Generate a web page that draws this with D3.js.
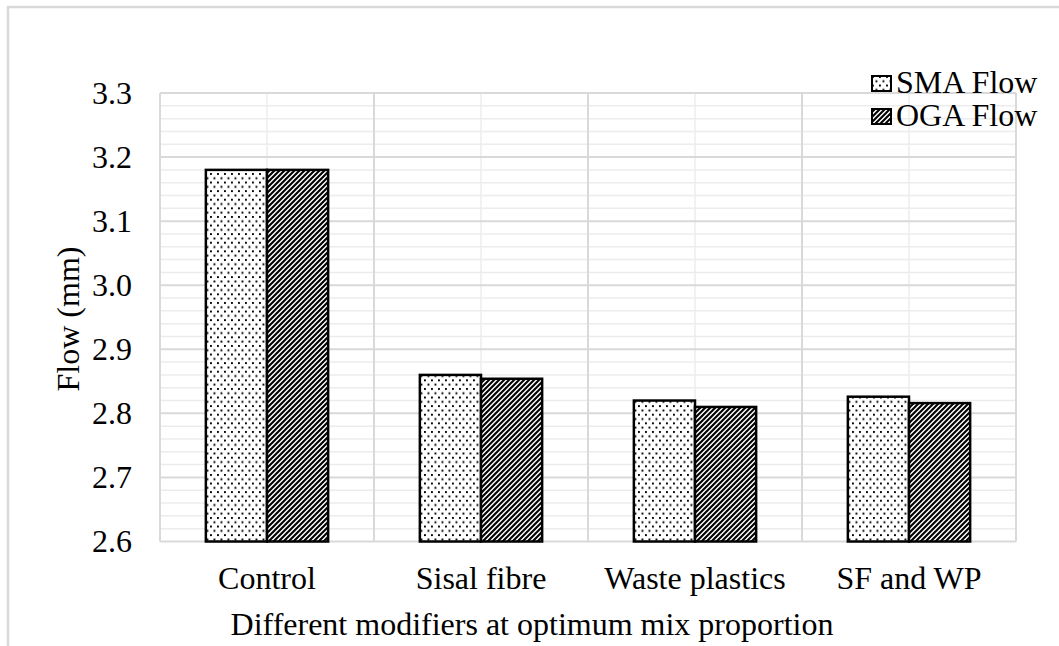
<!DOCTYPE html>
<html>
<head>
<meta charset="utf-8">
<script src="https://cdn.jsdelivr.net/npm/d3@7"></script>
<style>
  html, body { margin: 0; padding: 0; background: #fff; }
  svg { display: block; }
</style>
</head>
<body>
<svg id="chart" width="1059" height="646"></svg>
<script>
// Flow values per modifier for the two mixes
const categories = ["Control", "Sisal fibre", "Waste plastics", "SF and WP"];
const seriesNames = ["SMA Flow", "OGA Flow"];
const smaFlow = [3.18, 2.86, 2.82, 2.826];
const ogaFlow = [3.18, 2.854, 2.81, 2.816];
const yTicks = [2.6, 2.7, 2.8, 2.9, 3.0, 3.1, 3.2, 3.3];
const yMinorTicks = d3.range(0, 36).map(i => +(2.6 + i * 0.02).toFixed(2));
const xTitle = "Different modifiers at optimum mix proportion";
const yTitle = "Flow (mm)";

const svg = d3.select("#chart");
const plot = { left: 160, right: 1016, top: 93, bottom: 541.5 };

// Serif label helper
function serif(sel) {
  return sel.style("font-family", "'Liberation Serif', 'Times New Roman', serif")
    .style("font-size", "32px").attr("fill", "#000");
}

// Patterns: dotted fill and diagonal hatch
const defs = svg.append("defs");
const dots = defs.append("pattern")
  .attr("id", "dots").attr("patternUnits", "userSpaceOnUse")
  .attr("width", 7).attr("height", 8.6);
dots.append("rect").attr("width", 7).attr("height", 8.6).attr("fill", "#fff");
dots.append("rect").attr("x", 1).attr("y", 1).attr("width", 1.9).attr("height", 1.9).attr("fill", "#000");
dots.append("rect").attr("x", 4.5).attr("y", 5.3).attr("width", 1.9).attr("height", 1.9).attr("fill", "#000");

const hatch = defs.append("pattern")
  .attr("id", "hatch").attr("patternUnits", "userSpaceOnUse")
  .attr("width", 5).attr("height", 5);
hatch.append("rect").attr("width", 5).attr("height", 5).attr("fill", "#fff");
hatch.append("path")
  .attr("d", "M-1,6 L6,-1 M-1,1 L1,-1 M4,6 L6,4")
  .attr("stroke", "#000").attr("stroke-width", 2.1);

const fills = ["url(#dots)", "url(#hatch)"];

// Outer chart frame (open on the right and bottom)
svg.append("line").attr("x1", 7).attr("x2", 1059).attr("y1", 7).attr("y2", 7)
  .attr("stroke", "#d9d9d9").attr("stroke-width", 2.5);
svg.append("line").attr("x1", 8).attr("x2", 8).attr("y1", 6).attr("y2", 646)
  .attr("stroke", "#d9d9d9").attr("stroke-width", 2.5);

// Scales
const y = d3.scaleLinear().domain([2.6, 3.3]).range([plot.bottom, plot.top]);
const x = d3.scaleBand().domain(categories).range([plot.left, plot.right]).padding(0);
const xs = d3.scaleBand().domain(seriesNames).range([0, x.bandwidth()])
  .paddingInner(0).paddingOuter(0.75);

// Minor horizontal gridlines
svg.append("g").selectAll("line")
  .data(yMinorTicks.filter(v => !yTicks.some(t => Math.abs(t - v) < 1e-6)))
  .join("line")
  .attr("x1", plot.left).attr("x2", plot.right)
  .attr("y1", d => y(d)).attr("y2", d => y(d))
  .attr("stroke", "#ececec").attr("stroke-width", 1.5);

// Minor vertical gridlines at category centres
svg.append("g").selectAll("line")
  .data(categories).join("line")
  .attr("x1", d => x(d) + x.bandwidth() / 2).attr("x2", d => x(d) + x.bandwidth() / 2)
  .attr("y1", plot.top).attr("y2", plot.bottom)
  .attr("stroke", "#ececec").attr("stroke-width", 1.5);

// Major horizontal gridlines
svg.append("g").selectAll("line")
  .data(yTicks).join("line")
  .attr("x1", plot.left).attr("x2", plot.right)
  .attr("y1", d => y(d)).attr("y2", d => y(d))
  .attr("stroke", "#d9d9d9").attr("stroke-width", 2);

// Major vertical gridlines at category boundaries
const bounds = categories.map(c => x(c)).concat([plot.right]);
svg.append("g").selectAll("line")
  .data(bounds).join("line")
  .attr("x1", d => d).attr("x2", d => d)
  .attr("y1", plot.top).attr("y2", plot.bottom)
  .attr("stroke", "#d9d9d9").attr("stroke-width", 2);

// Bars
const rows = categories.map((c, i) => ({ cat: c, values: [smaFlow[i], ogaFlow[i]] }));
svg.append("g").selectAll("g")
  .data(rows).join("g")
  .attr("transform", d => `translate(${x(d.cat)},0)`)
  .selectAll("rect")
  .data(d => d.values.map((v, j) => ({ name: seriesNames[j], v, j })))
  .join("rect")
  .attr("x", d => xs(d.name))
  .attr("y", d => y(d.v))
  .attr("width", xs.bandwidth())
  .attr("height", d => y(2.6) - y(d.v))
  .attr("fill", d => fills[d.j])
  .attr("stroke", "#000").attr("stroke-width", 2.5);

// Y axis tick labels
const yAxis = d3.axisLeft(y).tickValues(yTicks).tickFormat(d3.format(".1f")).tickSize(0).tickPadding(0);
const gy = svg.append("g").attr("transform", `translate(132,0)`).call(yAxis);
gy.select(".domain").remove();
serif(gy.selectAll("text"));

// X axis category labels
const xAxis = d3.axisBottom(x).tickSize(0).tickPadding(0);
const gx = svg.append("g").attr("transform", `translate(0,${plot.bottom})`).call(xAxis);
gx.select(".domain").remove();
serif(gx.selectAll("text").attr("dy", null).attr("y", 47.5));

// Axis titles
serif(svg.append("text").attr("x", 532).attr("y", 635).attr("text-anchor", "middle")).text(xTitle);
serif(svg.append("text").attr("transform", "translate(79,319) rotate(-90)")
  .attr("text-anchor", "middle")).text(yTitle);

// Legend
const legend = svg.append("g").selectAll("g")
  .data(seriesNames).join("g")
  .attr("transform", (d, i) => `translate(871,${75 + i * 33})`);
legend.append("rect").attr("x", 1).attr("y", 1).attr("width", 19).attr("height", 15)
  .attr("fill", (d, i) => fills[i]).attr("stroke", "#000").attr("stroke-width", 2);
serif(legend.append("text").attr("x", 25).attr("y", 18)).text(d => d);
</script>
</body>
</html>
